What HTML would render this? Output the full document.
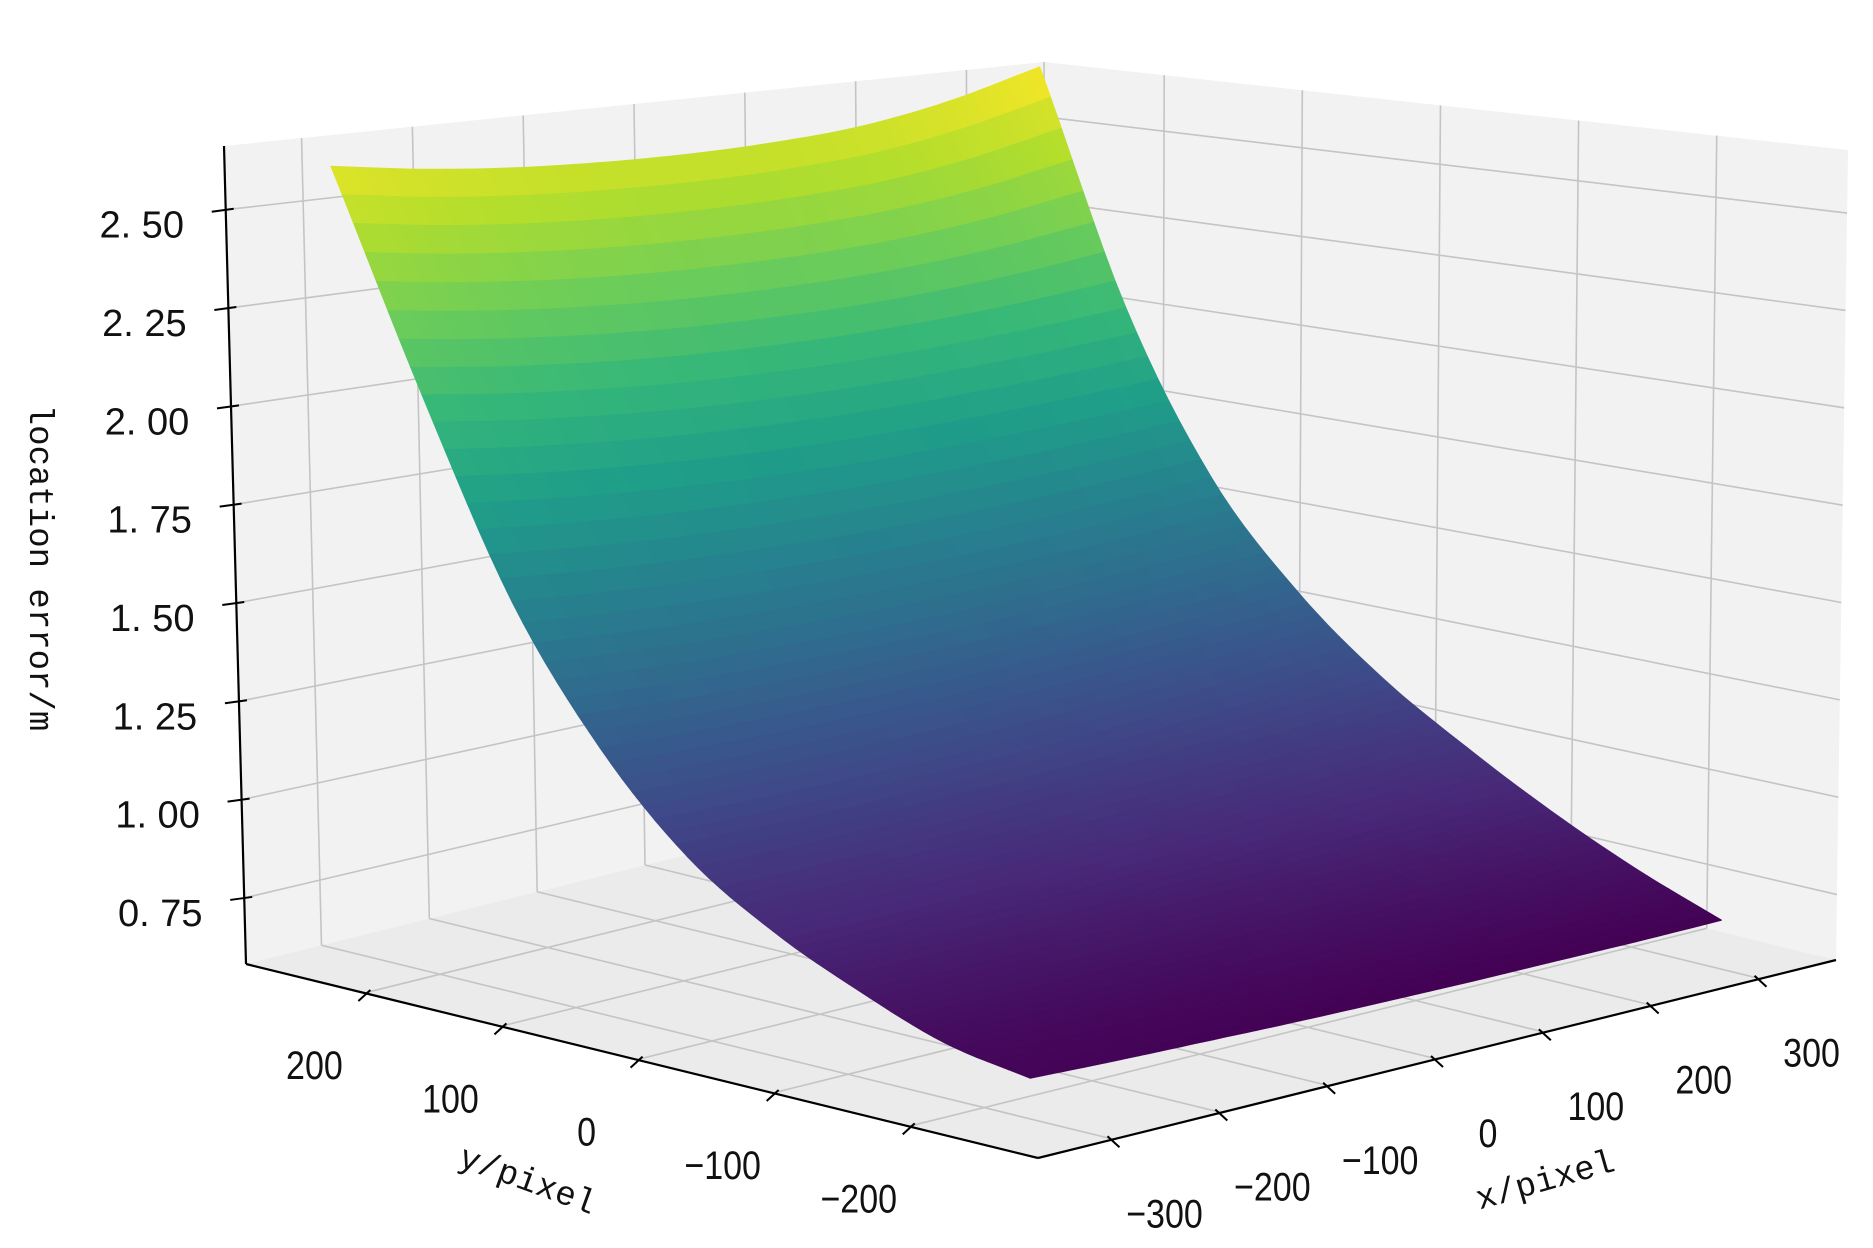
<!DOCTYPE html>
<html><head><meta charset="utf-8"><style>
html,body{margin:0;padding:0;background:#fff;}
svg{display:block;}
.tick{font-family:"Liberation Sans",sans-serif;font-size:40px;fill:#111;}
.ztick{font-family:"Liberation Sans",sans-serif;font-size:38px;fill:#111;}
.alabel{font-family:"Liberation Mono",monospace;font-size:34px;fill:#111;}
</style></head><body>
<svg id="chart" width="1873" height="1248" viewBox="0 0 1873 1248" xmlns="http://www.w3.org/2000/svg">
<g id="panes"></g>
<g id="grid"></g>
<g id="surface"></g>
<g id="axes"></g>
<g id="labels"></g>
<text class="alabel" transform="translate(30,568) rotate(90)" text-anchor="middle">location error/m</text>
<text class="alabel" transform="translate(524,1190) rotate(20)" text-anchor="middle">y/pixel</text>
<text class="alabel" transform="translate(1548,1190) rotate(-16)" text-anchor="middle">x/pixel</text>
</svg>
<script>
// ---- data ----
const xValues = [-320,-240,-160,-80,0,80,160,240,320];
const yValues = [-250,-187.5,-125,-62.5,0,62.5,125,187.5,250];
// zRows[j][i] : location error at y=yValues[j], x=xValues[i]
const zRows = [
 [0.70,0.693,0.688,0.683,0.68,0.678,0.678,0.678,0.68],
 [0.735,0.734,0.734,0.735,0.738,0.742,0.747,0.753,0.76],
 [0.81,0.810,0.811,0.815,0.82,0.827,0.836,0.847,0.86],
 [0.905,0.905,0.909,0.914,0.923,0.933,0.946,0.962,0.98],
 [1.04,1.039,1.041,1.047,1.055,1.066,1.081,1.099,1.12],
 [1.26,1.253,1.25,1.251,1.255,1.263,1.275,1.291,1.31],
 [1.58,1.563,1.55,1.543,1.54,1.543,1.55,1.563,1.58],
 [2.06,2.031,2.009,1.993,1.985,1.983,1.989,2.001,2.02],
 [2.61,2.578,2.556,2.544,2.54,2.546,2.565,2.61,2.68]
];
const xTicks = [-300,-200,-100,0,100,200,300];
const yTicks = [-200,-100,0,100,200];
const zTicks = [0.75,1.00,1.25,1.50,1.75,2.00,2.25,2.50];
const xTickLabels = ["\u2212300","\u2212200","\u2212100","0","100","200","300"];
const yTickLabels = ["\u2212200","\u2212100","0","100","200"];
const zTickLabels = ["0. 75","1. 00","1. 25","1. 50","1. 75","2. 00","2. 25","2. 50"];
const xLim = [-370,370], yLim = [-295,287], zLim = [0.582,2.662];

// ---- projection ----
const F=[1038,1158], R=[1836,960], L=[246,964];
const HF=[-10,-924], HR=[12,-810], HL=[-22,-818], HB=[0,-704];
function U(x){return (x-xLim[0])/(xLim[1]-xLim[0]);}
function V(y){return (y-yLim[0])/(yLim[1]-yLim[0]);}
function W(z){return (z-zLim[0])/(zLim[1]-zLim[0]);}
function projUVW(u,v,w){
  const px=F[0]+u*(R[0]-F[0])+v*(L[0]-F[0]);
  const py=F[1]+u*(R[1]-F[1])+v*(L[1]-F[1]);
  const a=(1-u)*(1-v),b=u*(1-v),c=(1-u)*v,d=u*v;
  const hx=a*HF[0]+b*HR[0]+c*HL[0]+d*HB[0];
  const hy=a*HF[1]+b*HR[1]+c*HL[1]+d*HB[1];
  return [px+w*hx,py+w*hy];
}
function proj(x,y,z){return projUVW(U(x),V(y),W(z));}
const NS="http://www.w3.org/2000/svg";
function mk(tag,parent,attrs){const e=document.createElementNS(NS,tag);for(const k in attrs)e.setAttribute(k,attrs[k]);parent.appendChild(e);return e;}
function pts(a){return a.map(p=>p[0].toFixed(1)+","+p[1].toFixed(1)).join(" ");}

// panes
const panes=document.getElementById('panes');
let p=mk('polygon',panes,{points:pts([projUVW(0,1,0),projUVW(1,1,0),projUVW(1,1,1),projUVW(0,1,1)]),fill:'#f2f2f2'});

p=mk('polygon',panes,{points:pts([projUVW(1,0,0),projUVW(1,1,0),projUVW(1,1,1),projUVW(1,0,1)]),fill:'#f2f2f2'});

p=mk('polygon',panes,{points:pts([projUVW(0,0,0),projUVW(1,0,0),projUVW(1,1,0),projUVW(0,1,0)]),fill:'#ebebeb'});


// grid
const grid=document.getElementById('grid');
function gl(a,b){const l=mk('line',grid,{x1:a[0],y1:a[1],x2:b[0],y2:b[1],stroke:'#c4c4c4','stroke-width':1.6});
}
xTicks.forEach(x=>{const u=U(x);gl(projUVW(u,1,0),projUVW(u,1,1));gl(projUVW(u,0,0),projUVW(u,1,0));});
yTicks.forEach(y=>{const v=V(y);gl(projUVW(1,v,0),projUVW(1,v,1));gl(projUVW(0,v,0),projUVW(1,v,0));});
zTicks.forEach(z=>{const w=W(z);gl(projUVW(0,1,w),projUVW(1,1,w));gl(projUVW(1,1,w),projUVW(1,0,w));});
gl(projUVW(1,1,0),projUVW(1,1,1));

// viridis
const VIR=[[68,1,84],[72,40,120],[62,74,137],[49,104,142],[38,130,142],[31,158,137],[53,183,121],[109,205,89],[180,222,44],[253,231,37]];
function viridis(t){t=Math.max(0,Math.min(1,t))*(VIR.length-1);const i=Math.min(Math.floor(t),VIR.length-2),f=t-i;
const c=VIR[i].map((v,k)=>Math.round(v+(VIR[i+1][k]-v)*f));return 'rgb('+c.join(',')+')';}

// smooth (Catmull-Rom) rendering of the grid
function cr(p0,p1,p2,p3,t){return 0.5*((2*p1)+(-p0+p2)*t+(2*p0-5*p1+4*p2-p3)*t*t+(-p0+3*p1-3*p2+p3)*t*t*t);}
function zg(j,i){
  const nj=yValues.length, ni=xValues.length;
  if(j<0) return 2*zg(0,i)-zg(1,i);
  if(j>nj-1) return 2*zg(nj-1,i)-zg(nj-2,i);
  if(i<0) return 2*zg(j,0)-zg(j,1);
  if(i>ni-1) return 2*zg(j,ni-1)-zg(j,ni-2);
  return zRows[j][i];
}
function zSmooth(fi,fj){
  const i=Math.min(Math.floor(fi),xValues.length-2), j=Math.min(Math.floor(fj),yValues.length-2);
  const s=fi-i, t=fj-j; const col=[];
  for(let dj=-1;dj<=2;dj++){col.push(cr(zg(j+dj,i-1),zg(j+dj,i),zg(j+dj,i+1),zg(j+dj,i+2),s));}
  return cr(col[0],col[1],col[2],col[3],t);
}
function xAtF(fi){const i=Math.min(Math.floor(fi),xValues.length-2);return xValues[i]+(xValues[i+1]-xValues[i])*(fi-i);}
function yAtF(fj){const j=Math.min(Math.floor(fj),yValues.length-2);return yValues[j]+(yValues[j+1]-yValues[j])*(fj-j);}

const surf=document.getElementById('surface');
let zmin=Infinity,zmax=-Infinity;zRows.forEach(r=>r.forEach(z=>{zmin=Math.min(zmin,z);zmax=Math.max(zmax,z);}));
const SUB=8, NI=(xValues.length-1)*SUB, NJ=(yValues.length-1)*SUB, cells=[];
for(let b=0;b<NJ;b++)for(let a=0;a<NI;a++){
  const c=[[a,b],[a+1,b],[a+1,b+1],[a,b+1]].map(q=>{const fi=q[0]/SUB,fj=q[1]/SUB;return proj(xAtF(fi),yAtF(fj),zSmooth(fi,fj));});
  const fc=(a+0.5)/SUB, fr=(b+0.5)/SUB;
  cells.push({P:c,zc:zSmooth(fc,fr),depth:U(xAtF(fc))+V(yAtF(fr))});
}
cells.sort((a,b)=>b.depth-a.depth);
cells.forEach(c=>{const col=viridis((c.zc-zmin)/(zmax-zmin));
  const e=mk('polygon',surf,{points:pts(c.P),fill:col,stroke:col,'stroke-width':1.2,'stroke-linejoin':'round'});
  
  
});

// axes lines and ticks
const axes=document.getElementById('axes');
function al(a,b,name,w){const l=mk('line',axes,{x1:a[0],y1:a[1],x2:b[0],y2:b[1],stroke:'#000','stroke-width':w||2.2});
}
al(projUVW(0,1,0),projUVW(0,1,1),'z-axis-line');
al(projUVW(0,1,0),projUVW(0,0,0),'y-axis-line');
al(projUVW(0,0,0),projUVW(1,0,0),'x-axis-line');
const labels=document.getElementById('labels');
zTicks.forEach((z,k)=>{const q=projUVW(0,1,W(z));al([q[0]-14,q[1]+2],[q[0]+8,q[1]-1],'z-tick',2);
  const t=mk('text',labels,{x:q[0]-84,y:q[1]+28,'text-anchor':'middle',class:'ztick'});t.textContent=zTickLabels[k];
  });
yTicks.forEach((y,k)=>{const q=projUVW(0,V(y),0);al([q[0]-6,q[1]+8],[q[0]+6,q[1]-3],'y-tick',2);
  const t=mk('text',labels,{'text-anchor':'middle',class:'tick',transform:'translate('+(q[0]-50)+','+(q[1]+86)+') scale(0.85,1)'});t.textContent=yTickLabels[k];
  });
xTicks.forEach((x,k)=>{const q=projUVW(U(x),0,0);al([q[0]+6,q[1]+8],[q[0]-6,q[1]-3],'x-tick',2);
  const t=mk('text',labels,{'text-anchor':'middle',class:'tick',transform:'translate('+(q[0]+51)+','+(q[1]+88)+') scale(0.85,1)'});t.textContent=xTickLabels[k];
  });
</script>
</body></html>
